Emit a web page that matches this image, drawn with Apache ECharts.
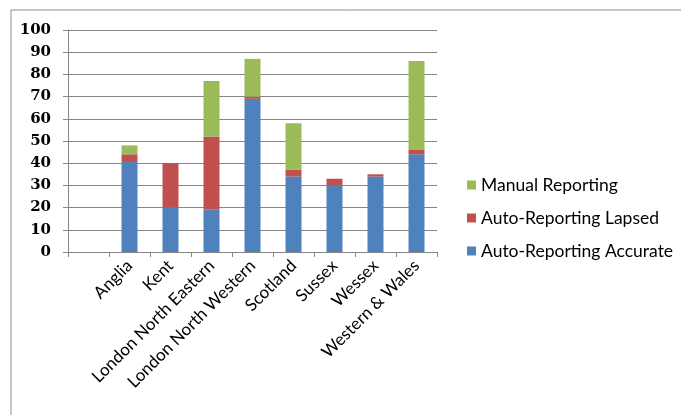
<!DOCTYPE html>
<html>
<head>
<meta charset="UTF-8">
<title>Reporting by region</title>
<script src="https://cdn.jsdelivr.net/npm/echarts@6/dist/echarts.min.js"></script>
<style>
  html, body { margin: 0; padding: 0; background: #fff; }
  #main { width: 681px; height: 415px; }
</style>
</head>
<body>
<div id="main"></div>
<script>
// first slot on the axis is empty in the original
var regions = ['', 'Anglia', 'Kent', 'London North Eastern', 'London North Western',
  'Scotland', 'Sussex', 'Wessex', 'Western & Wales'];
var accurate = [null, 41, 20, 19, 69, 34, 30, 34, 44];
var lapsed = [null, 3, 20, 33, 1, 3, 3, 1, 2];
var manual = [null, 4, null, 25, 17, 21, null, null, 40];
var yTicks = [0, 100, 10]; // min, max, step

var myChart = echarts.init(document.getElementById('main'));

var option = {
  animation: false,
  graphic: [{
    type: 'rect',
    shape: { x: 11, y: 10, width: 700, height: 420 },
    style: { fill: 'none', stroke: '#8c8c8c', lineWidth: 1 }
  }],
  grid: { left: 68, right: 244, top: 30, bottom: 163 },
  legend: {
    orient: 'vertical',
    left: 462,
    top: 171,
    itemWidth: 9,
    itemHeight: 9,
    itemGap: 15,
    icon: 'rect',
    data: ['Manual Reporting', 'Auto-Reporting Lapsed', 'Auto-Reporting Accurate'],
    textStyle: { fontFamily: 'Lato', fontSize: 17.5, color: '#000', padding: [0, 0, 0, 0] }
  },
  xAxis: {
    type: 'category',
    data: regions,
    axisLine: { lineStyle: { color: '#868686' } },
    axisTick: { show: true, length: 5, lineStyle: { color: '#868686' } },
    axisLabel: {
      rotate: 45, interval: 0, margin: 11,
      fontFamily: 'Lato', fontSize: 17, color: '#000'
    }
  },
  yAxis: {
    type: 'value',
    min: yTicks[0], max: yTicks[1], interval: yTicks[2],
    axisLine: { show: true, lineStyle: { color: '#868686' } },
    axisTick: { show: true, inside: false, length: 5, lineStyle: { color: '#868686' } },
    splitLine: { lineStyle: { color: '#868686' } },
    axisLabel: { fontFamily: 'DejaVu Serif', fontWeight: 'bold', fontSize: 15, color: '#000', margin: 17 }
  },
  series: [{
    name: 'Auto-Reporting Accurate', type: 'bar', stack: 'a',
    barWidth: 16, data: accurate, itemStyle: { color: '#4F81BD' }
  }, {
    name: 'Auto-Reporting Lapsed', type: 'bar', stack: 'a',
    barWidth: 16, data: lapsed, itemStyle: { color: '#C0504D' }
  }, {
    name: 'Manual Reporting', type: 'bar', stack: 'a',
    barWidth: 16, data: manual, itemStyle: { color: '#9BBB59' }
  }]
};

myChart.setOption(option);
</script>
</body>
</html>
